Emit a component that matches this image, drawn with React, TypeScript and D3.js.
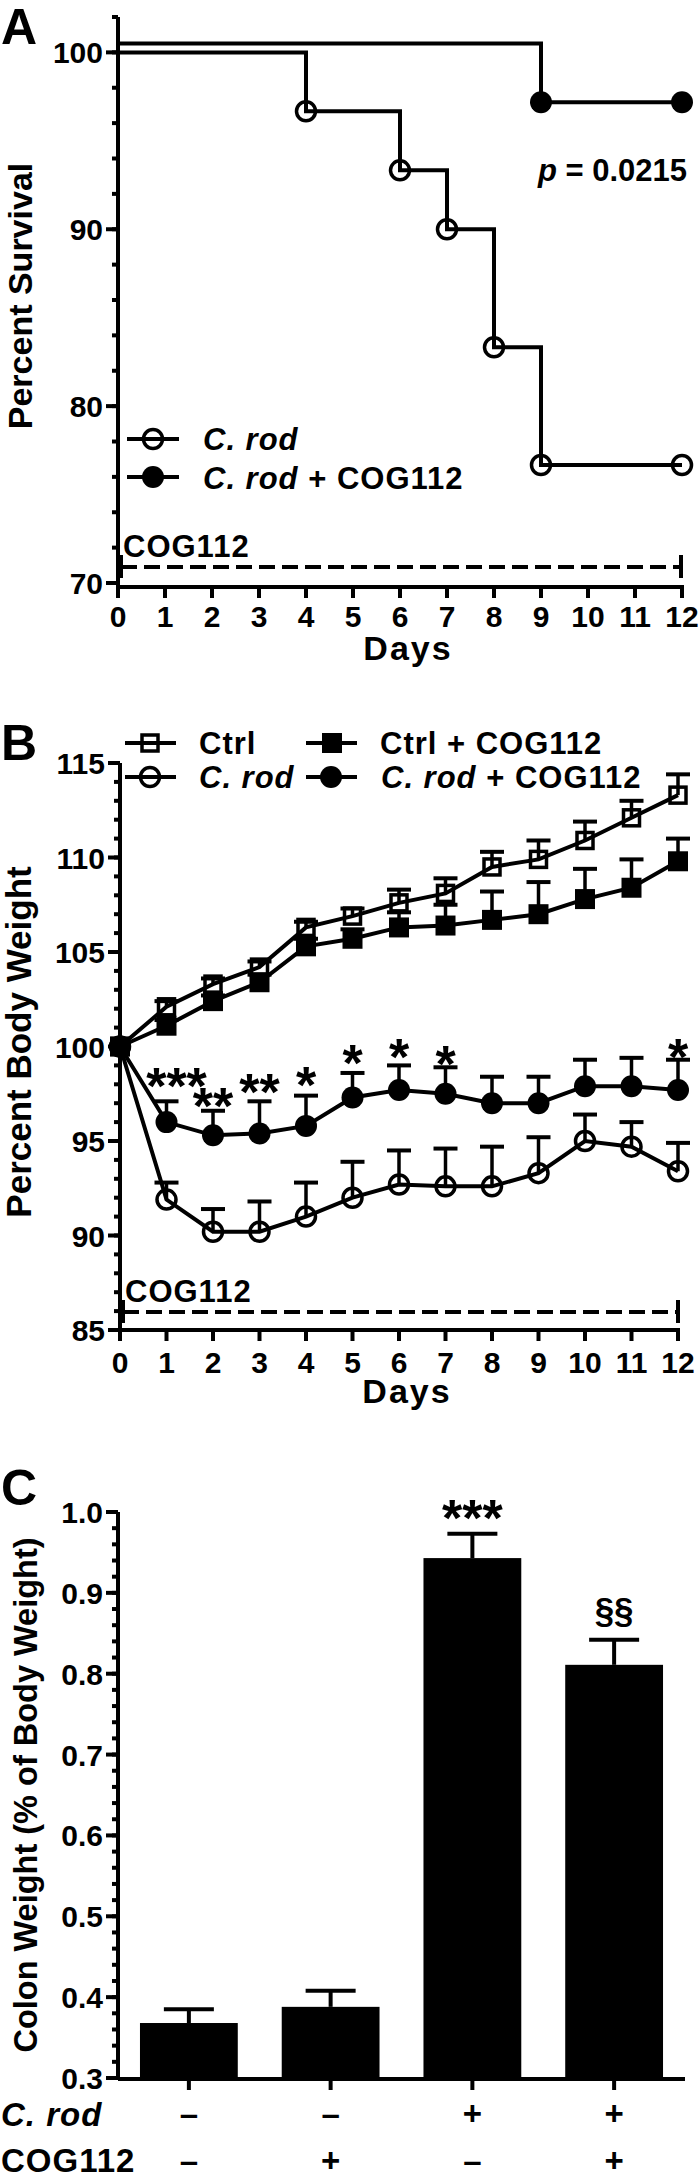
import React from "react";
import * as d3 from "d3";

// ---- data ----
// panel A: Kaplan-Meier survival
const survDaysCrod = [0, 4, 6, 7, 8, 9, 12];
const survCrod = [100, 96.67, 93.33, 90, 83.33, 76.67, 76.67];
const survDaysCog = [0, 9, 12];
const survCog = [100, 96.67, 96.67];
const survTicks = [70, 80, 90, 100];

// panel B: body weight (mean, SEM)
const days = [0, 1, 2, 3, 4, 5, 6, 7, 8, 9, 10, 11, 12];
const ctrlMean = [100, 102.1, 103.3, 104.2, 106.3, 106.9, 107.6, 108.1, 109.5, 109.9, 110.9, 112.1, 113.3];
const ctrlSem = [0, 0.3, 0.3, 0.3, 0.3, 0.4, 0.7, 0.8, 0.8, 1.0, 1.0, 0.9, 1.1];
const ctrlCogMean = [100, 101.1, 102.4, 103.4, 105.3, 105.7, 106.3, 106.4, 106.7, 107.0, 107.8, 108.4, 109.8];
const ctrlCogSem = [0, 0.3, 0.3, 0.4, 0.4, 0.5, 0.8, 1.1, 1.5, 1.7, 1.6, 1.5, 1.2];
const crodMean = [100, 91.9, 90.2, 90.2, 91.0, 92.0, 92.7, 92.6, 92.6, 93.3, 95.0, 94.7, 93.4];
const crodSem = [0, 0.9, 1.2, 1.6, 1.8, 1.9, 1.8, 2.0, 2.1, 1.9, 1.4, 1.3, 1.5];
const crodCogMean = [100, 96.0, 95.3, 95.4, 95.8, 97.3, 97.7, 97.5, 97.0, 97.0, 97.9, 97.9, 97.7];
const crodCogSem = [0, 1.1, 1.3, 1.7, 1.6, 1.3, 1.3, 1.4, 1.4, 1.4, 1.4, 1.5, 1.6];
const weightTicks = [85, 90, 95, 100, 105, 110, 115];
const sigDays = [1, 2, 3, 4, 5, 6, 7, 12];
const sigText = ["***", "**", "**", "*", "*", "*", "*", "*"];
const sigLevel = [98.57, 97.51, 98.23, 98.62, 99.76, 100.08, 99.71, 100.08];

// panel C: colon weight
const groups = ["Ctrl", "COG112", "C. rod", "C. rod + COG112"];
const colonMean = [0.368, 0.388, 0.943, 0.811];
const colonSem = [0.017, 0.02, 0.03, 0.031];
const colonMarks = ["", "", "***", "§§"];
const crodSigns = ["–", "–", "+", "+"];
const cogSigns = ["–", "+", "–", "+"];
const colonTicks = [0.3, 0.4, 0.5, 0.6, 0.7, 0.8, 0.9, 1.0];

const FONT = "'Liberation Sans', Arial, Helvetica, sans-serif";
const SW = 4;

const T = ({ x, y, size = 30, anchor = "start", rotate = 0, ls = 0, children }: any) => (
  <text
    x={rotate ? 0 : x}
    y={rotate ? 0 : y}
    transform={rotate ? `translate(${x},${y}) rotate(${rotate})` : undefined}
    fontFamily={FONT}
    fontWeight="bold"
    fontSize={size}
    textAnchor={anchor}
    letterSpacing={ls}
    fill="#000"
  >
    {children}
  </text>
);

const Crod = () => <tspan fontStyle="italic">C. rod</tspan>;

function YAxis({ x, scale, minor, major, fmt, top, bottom }: any) {
  return (
    <g>
      <line x1={x} x2={x} y1={top} y2={bottom} stroke="#000" strokeWidth={SW} />
      {minor.map((v: number) => (
        <line key={"m" + v} x1={x - 6} x2={x} y1={scale(v)} y2={scale(v)} stroke="#000" strokeWidth={SW} />
      ))}
      {major.map((v: number) => (
        <g key={"M" + v}>
          <line x1={x - 12} x2={x} y1={scale(v)} y2={scale(v)} stroke="#000" strokeWidth={SW} />
          <T x={x - 15} y={scale(v) + 11} anchor="end">{fmt(v)}</T>
        </g>
      ))}
    </g>
  );
}

function DaysAxis({ xs, y, labelY, titleY }: any) {
  return (
    <g>
      <line x1={xs(0)} x2={xs(12) + 2} y1={y} y2={y} stroke="#000" strokeWidth={SW} />
      {days.map((d) => (
        <g key={d}>
          <line x1={xs(d)} x2={xs(d)} y1={y} y2={y + 11} stroke="#000" strokeWidth={SW} />
          <T x={xs(d)} y={labelY} anchor="middle">{d}</T>
        </g>
      ))}
      <T x={(xs(0) + xs(12)) / 2 + 8} y={titleY} size={34} anchor="middle" ls={2}>Days</T>
    </g>
  );
}

function Treatment({ x0, x1, y }: any) {
  return (
    <g>
      <T x={x0 + 2} y={y - 10} size={31} ls={1}>COG112</T>
      <line x1={x0} x2={x1} y1={y} y2={y} stroke="#000" strokeWidth={SW} strokeDasharray="16,7" />
      <line x1={x0} x2={x0} y1={y - 12} y2={y + 11} stroke="#000" strokeWidth={SW} />
      <line x1={x1} x2={x1} y1={y - 12} y2={y + 11} stroke="#000" strokeWidth={SW} />
    </g>
  );
}

function Marker({ kind, x, y, filled }: any) {
  if (kind === "square") {
    const s = filled ? 20 : 16;
    return (
      <rect x={x - s / 2} y={y - s / 2} width={s} height={s}
        fill={filled ? "#000" : "none"} stroke="#000" strokeWidth={filled ? 0 : 3.5} />
    );
  }
  return filled ? (
    <circle cx={x} cy={y} r={11} fill="#000" />
  ) : (
    <circle cx={x} cy={y} r={9.5} fill="none" stroke="#000" strokeWidth={3.5} />
  );
}

function PanelA() {
  const x = d3.scaleLinear().domain([0, 12]).range([118, 682]);
  const y = d3.scaleLinear().domain([70, 102]).range([583, 17]);
  const offset = -9; // Prism offsets overlapping survival curves
  const step = (dx: number[], vy: number[], off: number) =>
    d3.line<number>().x((_, i) => x(dx[i])).y((v) => y(v) + off).curve(d3.curveStepAfter)(vy) as string;
  return (
    <g>
      <T x={1} y={44} size={50}>A</T>
      <T x={32} y={296} size={34} anchor="middle" rotate={-90}>Percent Survival</T>
      <YAxis x={x(0)} scale={y} minor={d3.range(70, 103, 2)} major={survTicks} fmt={(v: number) => v}
        top={y(102)} bottom={587} />
      <DaysAxis xs={x} y={587} labelY={627} titleY={660} />
      <path d={step(survDaysCrod, survCrod, 0)} fill="none" stroke="#000" strokeWidth={SW} />
      <path d={step(survDaysCog, survCog, offset)} fill="none" stroke="#000" strokeWidth={SW} />
      {survDaysCrod.slice(1).map((d, i) => (
        <Marker key={"c" + d} kind="circle" x={x(d)} y={y(survCrod[i + 1])} />
      ))}
      {survDaysCog.slice(1).map((d, i) => (
        <Marker key={"g" + d} kind="circle" filled x={x(d)} y={y(survCog[i + 1]) + offset} />
      ))}
      <text x={687} y={181} fontFamily={FONT} fontWeight="bold" fontSize={31} textAnchor="end">
        <tspan fontStyle="italic">p</tspan> = 0.0215
      </text>
      {/* legend */}
      <line x1={127} x2={179} y1={439} y2={439} stroke="#000" strokeWidth={SW} />
      <Marker kind="circle" x={153} y={439} />
      <T x={203} y={450} size={31} ls={1}><Crod /></T>
      <line x1={127} x2={179} y1={477} y2={477} stroke="#000" strokeWidth={SW} />
      <Marker kind="circle" filled x={153} y={477} />
      <T x={203} y={489} size={31} ls={1}><Crod /> + COG112</T>
      <Treatment x0={121} x1={681} y={567} />
    </g>
  );
}

function PanelB() {
  const x = d3.scaleLinear().domain([0, 12]).range([120, 678]);
  const y = d3.scaleLinear().domain([85, 115]).range([1330, 763]);
  const series = [
    { mean: ctrlMean, sem: ctrlSem, kind: "square", filled: false },
    { mean: ctrlCogMean, sem: ctrlCogSem, kind: "square", filled: true },
    { mean: crodMean, sem: crodSem, kind: "circle", filled: false },
    { mean: crodCogMean, sem: crodCogSem, kind: "circle", filled: true },
  ];
  const line = d3.line<number>().x((_, i) => x(days[i])).y((v) => y(v));
  return (
    <g>
      <T x={1} y={760} size={50}>B</T>
      <T x={31} y={1042} size={35} anchor="middle" rotate={-90}>Percent Body Weight</T>
      <YAxis x={x(0)} scale={y} minor={d3.range(85, 116, 1)} major={weightTicks} fmt={(v: number) => v}
        top={763} bottom={1330} />
      <DaysAxis xs={x} y={1330} labelY={1373} titleY={1403} />
      <Treatment x0={123} x1={678} y={1312} />
      {series.map((s, k) => (
        <g key={k}>
          {s.mean.map((m, i) =>
            s.sem[i] > 0 ? (
              <g key={i}>
                <line x1={x(days[i])} x2={x(days[i])} y1={y(m)} y2={y(m + s.sem[i])} stroke="#000" strokeWidth={3.5} />
                <line x1={x(days[i]) - 12} x2={x(days[i]) + 12} y1={y(m + s.sem[i])} y2={y(m + s.sem[i])}
                  stroke="#000" strokeWidth={4} />
              </g>
            ) : null
          )}
        </g>
      ))}
      {series.map((s, k) => (
        <g key={"l" + k}>
          <path d={line(s.mean) as string} fill="none" stroke="#000" strokeWidth={SW} />
          {s.mean.map((m, i) => (
            <Marker key={i} kind={s.kind} filled={s.filled} x={x(days[i])} y={y(m)} />
          ))}
        </g>
      ))}
      {sigDays.map((d, i) => (
        <T key={d} x={x(d) + (sigText[i].length === 3 ? 10 : 0)} y={y(sigLevel[i]) + 30} size={52} anchor="middle">
          {sigText[i]}
        </T>
      ))}
      {/* legend */}
      <line x1={125} x2={176} y1={743} y2={743} stroke="#000" strokeWidth={SW} />
      <Marker kind="square" x={150} y={743} />
      <T x={199} y={754} size={31} ls={1}>Ctrl</T>
      <line x1={306} x2={357} y1={743} y2={743} stroke="#000" strokeWidth={SW} />
      <Marker kind="square" filled x={332} y={743} />
      <T x={380} y={754} size={31} ls={1}>Ctrl + COG112</T>
      <line x1={125} x2={176} y1={777} y2={777} stroke="#000" strokeWidth={SW} />
      <Marker kind="circle" x={150} y={777} />
      <T x={199} y={788} size={31} ls={1}><Crod /></T>
      <line x1={306} x2={357} y1={777} y2={777} stroke="#000" strokeWidth={SW} />
      <Marker kind="circle" filled x={331} y={777} />
      <T x={381} y={788} size={31} ls={1}><Crod /> + COG112</T>
    </g>
  );
}

function PanelC() {
  const x = d3.scaleBand<string>().domain(groups).range([118, 685]).paddingInner(0.31).paddingOuter(0.155);
  const y = d3.scaleLinear().domain([0.3, 1.0]).range([2078, 1512]);
  const bw = x.bandwidth();
  return (
    <g>
      <T x={1} y={1505} size={50}>C</T>
      <T x={37} y={1795} size={32.5} anchor="middle" rotate={-90}>Colon Weight (% of Body Weight)</T>
      {groups.map((g, i) => {
        const cx = (x(g) as number) + bw / 2;
        const top = y(colonMean[i] + colonSem[i]);
        return (
          <g key={g}>
            <line x1={cx} x2={cx} y1={y(colonMean[i])} y2={top} stroke="#000" strokeWidth={SW} />
            <line x1={cx - 25} x2={cx + 25} y1={top} y2={top} stroke="#000" strokeWidth={SW} />
            <rect x={x(g)} y={y(colonMean[i])} width={bw} height={y(0.3) - y(colonMean[i])} fill="#000" />
            <line x1={cx} x2={cx} y1={2079} y2={2090} stroke="#000" strokeWidth={SW} />
            {colonMarks[i] === "***" && (
              <T x={cx} y={top + 2} size={52} anchor="middle">{colonMarks[i]}</T>
            )}
            {colonMarks[i] === "§§" && (
              <T x={cx} y={top - 18} size={35} anchor="middle">{colonMarks[i]}</T>
            )}
            <T x={cx} y={2125} size={33} anchor="middle">{crodSigns[i]}</T>
            <T x={cx} y={2172} size={33} anchor="middle">{cogSigns[i]}</T>
          </g>
        );
      })}
      <YAxis x={118} scale={y} minor={d3.range(0, 36).map((k) => 0.3 + k * 0.02)} major={colonTicks}
        fmt={(v: number) => v.toFixed(1)} top={1512} bottom={2079} />
      <line x1={118} x2={685} y1={2079} y2={2079} stroke="#000" strokeWidth={SW} />
      <T x={1} y={2126} size={33} ls={1}><Crod /></T>
      <T x={1} y={2172} size={33} ls={1}>COG112</T>
    </g>
  );
}

export default function App() {
  return (
    <svg width={700} height={2179} style={{ position: "absolute", left: 0, top: 0, background: "#fff" }}>
      <rect width={700} height={2179} fill="#fff" />
      <PanelA />
      <PanelB />
      <PanelC />
    </svg>
  );
}
